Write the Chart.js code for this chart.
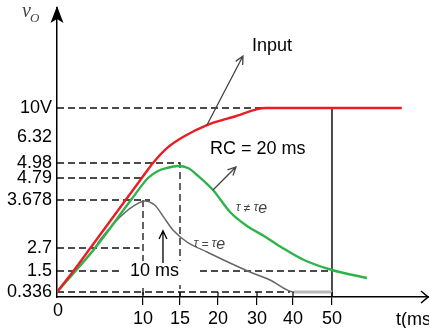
<!DOCTYPE html>
<html>
<head>
<meta charset="utf-8">
<script src="https://cdn.jsdelivr.net/npm/chart.js@4.4.0/dist/chart.umd.min.js"></script>
<style>
  html, body { margin: 0; padding: 0; background: #fff; }
</style>
</head>
<body>
<canvas id="c" width="429" height="328"></canvas>
<script>
// tick values on the two axes
const timeTicks = [10, 15, 20, 30, 40, 50];
const voltTicks = [0.336, 1.5, 2.7, 3.678, 4.79, 4.98, 6.32, 10];
const voltLabels = ['0.336', '1.5', '2.7', '3.678', '4.79', '4.98', '6.32', '10V'];

// input ramp (red)
const inputT = [0, 1.91, 3.88, 7.98, 9.86, 11.35, 13.24, 15.39, 18.55, 23.85, 32.5, 68];
const inputV = [0.336, 1.5, 2.7, 3.678, 4.79, 4.98, 5.75, 6.32, 7.84, 8.86, 10, 10];

// output with tau != tau_e (green)
const outNeT = [0, 2.15, 4.42, 8.6, 10.68, 12.03, 13.24, 14.73, 16.05, 17.24, 19.34, 23.08, 27.44, 31.94, 36.67, 42.82, 50, 59.0];
const outNeV = [0.336, 1.5, 2.7, 3.678, 4.79, 4.879, 4.917, 4.942, 4.917, 4.828, 4.184, 3.434, 3.148, 2.945, 2.72, 2.074, 1.552, 1.112];

// output with tau = tau_e (grey)
const outEqT = [0, 2.15, 4.42, 5.0, 6.16, 7.33, 8.72, 10.27, 11.62, 12.7, 14.05, 15.92, 18.55, 23.08, 28.2, 33.61, 40.26, 50];
const outEqV = [0.336, 1.5, 2.7, 2.863, 3.108, 3.332, 3.535, 3.66, 3.57, 3.35, 3.067, 2.822, 2.491, 1.917, 1.445, 1.001, 0.336, 0.336];

// dashed read-off lines, [t, v] corners
const guide10V = [[0, 10], [32.5, 10]];
const guide498 = [[0, 4.98], [15, 4.98], [15, 0]];
const guide479 = [[0, 4.79], [10, 4.79]];
const guide3678 = [[0, 3.678], [10.95, 3.678]];
const guide10ms = [[10, 3.678], [10, 0]];
const guide27 = [[0, 2.7], [9.6, 2.7]];
const guide15 = [[0, 1.5], [50, 1.5]];
const guide0336 = [[0, 0.336], [39.2, 0.336]];
const marker50 = [[50, 10], [50, 0]];

// the drawing is not to scale: each axis is stretched piecewise between its labels
class PiecewiseScale extends Chart.LinearScale {
  _frac(value) {
    const k = this.options.knots;
    if (value <= k[0][0]) return k[0][1];
    for (let i = 1; i < k.length; i++) {
      if (value <= k[i][0]) {
        const [v0, f0] = k[i - 1], [v1, f1] = k[i];
        return f0 + (value - v0) / (v1 - v0) * (f1 - f0);
      }
    }
    return k[k.length - 1][1];
  }
  getPixelForValue(value) {
    return this.getPixelForDecimal(this._frac(value));
  }
  getValueForPixel(pixel) {
    const k = this.options.knots;
    const f = this.getDecimalForPixel(pixel);
    for (let i = 1; i < k.length; i++) {
      if (f <= k[i][1]) {
        const [v0, f0] = k[i - 1], [v1, f1] = k[i];
        return v0 + (f - f0) / (f1 - f0) * (v1 - v0);
      }
    }
    return k[k.length - 1][0];
  }
}
PiecewiseScale.id = 'piecewise';
PiecewiseScale.defaults = Chart.LinearScale.defaults;
Chart.register(PiecewiseScale);

const SANS = '"Liberation Sans", Arial, sans-serif';
const pts = (xs, ys) => xs.map((t, i) => ({ x: t, y: ys[i] }));
const fromPairs = pairs => pairs.map(([t, v]) => ({ x: t, y: v }));

const curve = (label, xs, ys, color, width, extra) => Object.assign({
  label, data: pts(xs, ys), borderColor: color, borderWidth: width,
  cubicInterpolationMode: 'monotone', pointRadius: 0, fill: false
}, extra || {});

const guide = (pairs, dashed) => ({
  data: fromPairs(pairs), borderColor: '#111', borderWidth: dashed ? 1.3 : 1.5,
  borderDash: dashed ? [7, 4] : [], pointRadius: 0, tension: 0, fill: false
});

function arrowLine(ctx, x0, y0, x1, y1, color) {
  const ang = Math.atan2(y1 - y0, x1 - x0);
  ctx.strokeStyle = color;
  ctx.lineWidth = 1.3;
  ctx.beginPath();
  ctx.moveTo(x0, y0);
  ctx.lineTo(x1, y1);
  ctx.moveTo(x1 - 9 * Math.cos(ang - 0.45), y1 - 9 * Math.sin(ang - 0.45));
  ctx.lineTo(x1, y1);
  ctx.lineTo(x1 - 9 * Math.cos(ang + 0.45), y1 - 9 * Math.sin(ang + 0.45));
  ctx.stroke();
}

function tauLabel(ctx, x, y, rel) {
  const parts = [['τ', 12, -2], [' ' + rel + ' ', 12, -1], ['τ', 12, -2], ['e', 16, 0]];
  ctx.fillStyle = '#444';
  ctx.textBaseline = 'alphabetic';
  ctx.textAlign = 'left';
  for (const [s, size, dy] of parts) {
    ctx.font = `italic ${size}px ${SANS}`;
    ctx.fillText(s, x, y + dy);
    x += ctx.measureText(s).width;
  }
}

const annotations = {
  id: 'annotations',
  afterDatasetsDraw(chart) {
    const { ctx, chartArea: a, scales } = chart;
    const px = t => scales.x.getPixelForValue(t);
    const py = v => scales.y.getPixelForValue(v);
    ctx.save();

    // the "10 ms" label interrupts the 1.5 guide
    ctx.fillStyle = '#fff';
    ctx.fillRect(px(7.56), py(2.02), px(17.6) - px(7.56), py(0.72) - py(2.02));

    ctx.fillStyle = '#000';
    ctx.font = '18px ' + SANS;
    ctx.textBaseline = 'middle';
    ctx.textAlign = 'left';
    ctx.fillText('10 ms', px(8.49), py(1.5));
    ctx.fillText('Input', px(28.7), py(16.2));
    ctx.fillText('RC = 20 ms', px(18.95), py(5.7));

    arrowLine(ctx, px(18.55), py(7.84), px(26.4), py(15.2), '#444');
    arrowLine(ctx, px(19.34), py(4.18), px(24.6), py(4.93), '#444');
    arrowLine(ctx, px(12.7), py(1.92), px(12.7), py(3.05), '#000');

    tauLabel(ctx, px(24.6), py(3.52) + 5, '≠');
    tauLabel(ctx, px(16.8), py(2.78) + 5, '=');

    // axis arrows
    ctx.fillStyle = '#000';
    ctx.beginPath();
    ctx.moveTo(a.left, a.top - 2);
    ctx.lineTo(a.left - 6.5, a.top + 15);
    ctx.lineTo(a.left, a.top + 11);
    ctx.lineTo(a.left + 6.5, a.top + 15);
    ctx.closePath();
    ctx.fill();

    ctx.strokeStyle = '#000';
    ctx.lineWidth = 1.5;
    ctx.beginPath();
    ctx.moveTo(a.right - 8, a.bottom - 6);
    ctx.lineTo(a.right - 1, a.bottom);
    ctx.lineTo(a.right - 8, a.bottom + 6);
    ctx.stroke();

    // tick marks also poke above the time axis
    ctx.lineWidth = 1.2;
    ctx.beginPath();
    timeTicks.forEach(t => {
      ctx.moveTo(px(t), a.bottom);
      ctx.lineTo(px(t), a.bottom - 5);
    });
    ctx.stroke();

    // axis texts
    ctx.fillStyle = '#000';
    ctx.font = '18px ' + SANS;
    ctx.textAlign = 'center';
    ctx.textBaseline = 'middle';
    ctx.fillText('0', a.left + 1, a.bottom + 14);
    ctx.textAlign = 'left';
    ctx.fillText('t(ms)', a.right - 33, a.bottom + 23);

    ctx.fillStyle = '#444';
    ctx.textBaseline = 'alphabetic';
    ctx.font = 'italic 20px "Liberation Serif", "Times New Roman", serif';
    ctx.fillText('v', a.left - 35, a.top + 9);
    ctx.font = 'italic 13px "Liberation Serif", "Times New Roman", serif';
    ctx.fillText('O', a.left - 27, a.top + 14);

    ctx.restore();
  }
};

new Chart(document.getElementById('c'), {
  type: 'line',
  data: {
    datasets: [
      curve('Input', inputT, inputV, '#ec1c24', 2.4),
      curve('τ ≠ τe', outNeT, outNeV, '#2db34a', 2.4),
      curve('τ = τe', outEqT, outEqV, '#666', 1.5, {
        segment: {
          borderColor: c => c.p0.parsed.x >= 40 ? '#b8b8b8' : undefined,
          borderWidth: c => c.p0.parsed.x >= 40 ? 3 : undefined
        }
      }),
      guide(guide10V, true),
      guide(guide498, true),
      guide(guide479, true),
      guide(guide3678, true),
      guide(guide10ms, true),
      guide(guide27, true),
      guide(guide15, true),
      guide(guide0336, true),
      guide(marker50, false)
    ]
  },
  options: {
    responsive: false,
    animation: false,
    layout: { padding: { top: 8, right: 0, left: 0, bottom: 0 } },
    plugins: { legend: { display: false }, tooltip: { enabled: false } },
    scales: {
      x: {
        type: 'piecewise',
        min: 0, max: 75,
        knots: [[0, 0], [10, 0.2312], [15, 0.3306], [20, 0.4328], [30, 0.5376], [40, 0.6344], [50, 0.7392], [75, 1]],
        border: { color: '#000', width: 1.5 },
        grid: { drawOnChartArea: false, tickLength: 8, color: '#000', lineWidth: 1.2 },
        ticks: { autoSkip: false, maxRotation: 0, padding: 3, color: '#000', font: { family: SANS, size: 18 } },
        afterBuildTicks: s => { s.ticks = timeTicks.map(v => ({ value: v })); },
        afterFit: s => { s.height = 31; s.paddingLeft = 0; s.paddingRight = 0; }
      },
      y: {
        type: 'piecewise',
        min: 0, max: 20,
        knots: [[0, 0], [0.336, 0.0173], [1.5, 0.09], [2.7, 0.1696], [3.678, 0.3356], [4.79, 0.4118], [4.98, 0.4637], [6.32, 0.5536], [10, 0.654], [20, 1]],
        border: { color: '#000', width: 1.5 },
        grid: { drawOnChartArea: false, drawTicks: false },
        ticks: {
          autoSkip: false, padding: 5, color: '#000', font: { family: SANS, size: 18 },
          callback: v => voltLabels[voltTicks.indexOf(v)]
        },
        afterBuildTicks: s => { s.ticks = voltTicks.map(v => ({ value: v })); },
        afterFit: s => { s.width = 57; s.paddingTop = 0; s.paddingBottom = 0; }
      }
    }
  },
  plugins: [annotations]
});
</script>
</body>
</html>
